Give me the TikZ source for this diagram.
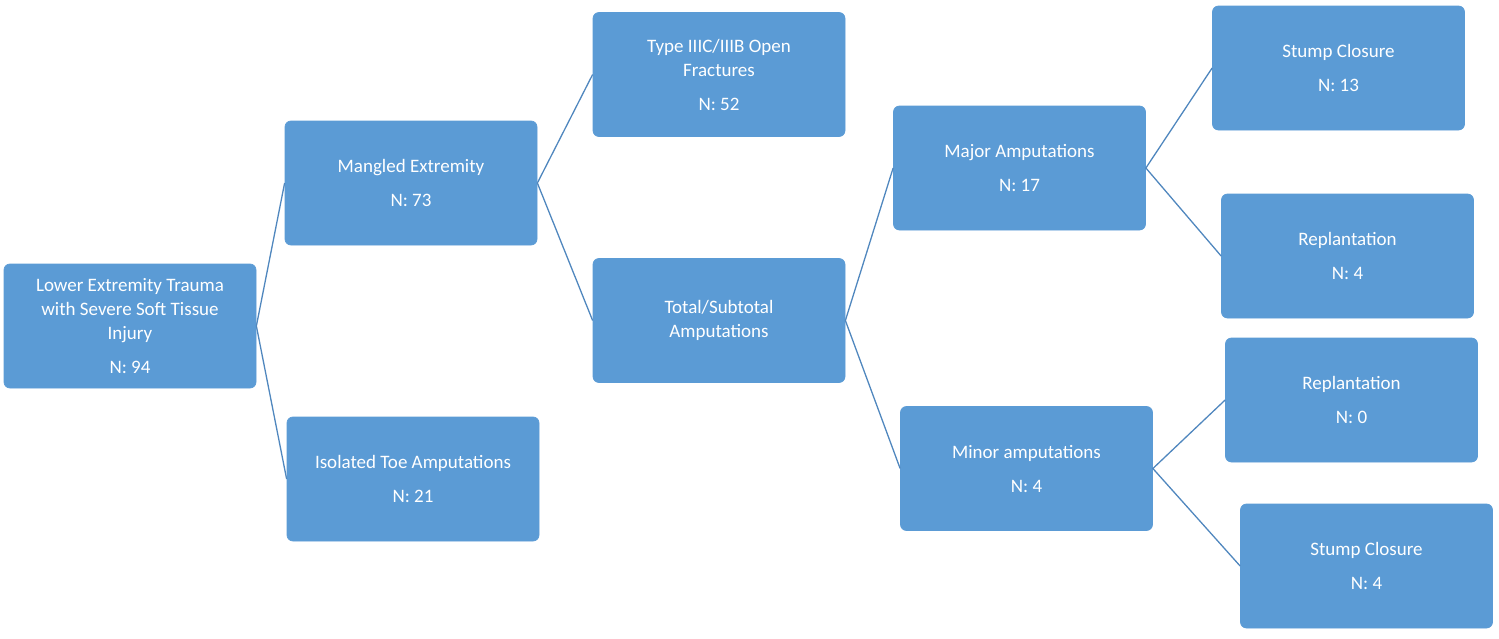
\documentclass[tikz,border=0pt]{standalone}
\usepackage{fontspec}
\setmainfont{Carlito}
\definecolor{boxblue}{RGB}{91,155,213}
\definecolor{lineblue}{RGB}{80,135,190}
\tikzset{every picture/.style={line width=0.75pt}}

\begin{document}
\begin{tikzpicture}[x=1pt,y=1pt,yscale=-1,xscale=1,
    box/.style={draw=boxblue,fill=boxblue,rounded corners=6pt,minimum width=252pt,minimum height=124pt,
      text=white,align=center,font=\fontsize{19}{24}\selectfont,inner sep=0pt},
    link/.style={draw=lineblue,line width=1.3pt}]
        \useasboundingbox (0,0) rectangle (1499,638);

        % Nodes
        \node [box] (root) at (130,326) {Lower Extremity Trauma\\with Severe Soft Tissue\\Injury\\[10pt]N: 94};
        \node [box] (mangled) at (411,183) {Mangled Extremity\\[10pt]N: 73};
        \node [box] (toe) at (413,479) {Isolated Toe Amputations\\[10pt]N: 21};
        \node [box] (open) at (719,74.5) {Type IIIC/IIIB Open\\Fractures\\[10pt]N: 52};
        \node [box] (total) at (719,320.5) {Total/Subtotal\\Amputations};
        \node [box] (major) at (1019.5,168) {Major Amputations\\[10pt]N: 17};
        \node [box] (minor) at (1026.5,468.5) {Minor amputations\\[10pt]N: 4};
        \node [box] (stumpA) at (1338.5,68) {Stump Closure\\[10pt]N: 13};
        \node [box] (replA) at (1347.5,256) {Replantation\\[10pt]N: 4};
        \node [box] (replB) at (1351.5,400) {Replantation\\[10pt]N: 0};
        \node [box] (stumpB) at (1366.5,566) {Stump Closure\\[10pt]N: 4};

        % Connectors
        \draw [link] (mangled.west) -- (root.east) -- (toe.west);
        \draw [link] (open.west) -- (mangled.east) -- (total.west);
        \draw [link] (major.west) -- (total.east) -- (minor.west);
        \draw [link] (stumpA.west) -- (major.east) -- (replA.west);
        \draw [link] (replB.west) -- (minor.east) -- (stumpB.west);

\end{tikzpicture}
\end{document}
